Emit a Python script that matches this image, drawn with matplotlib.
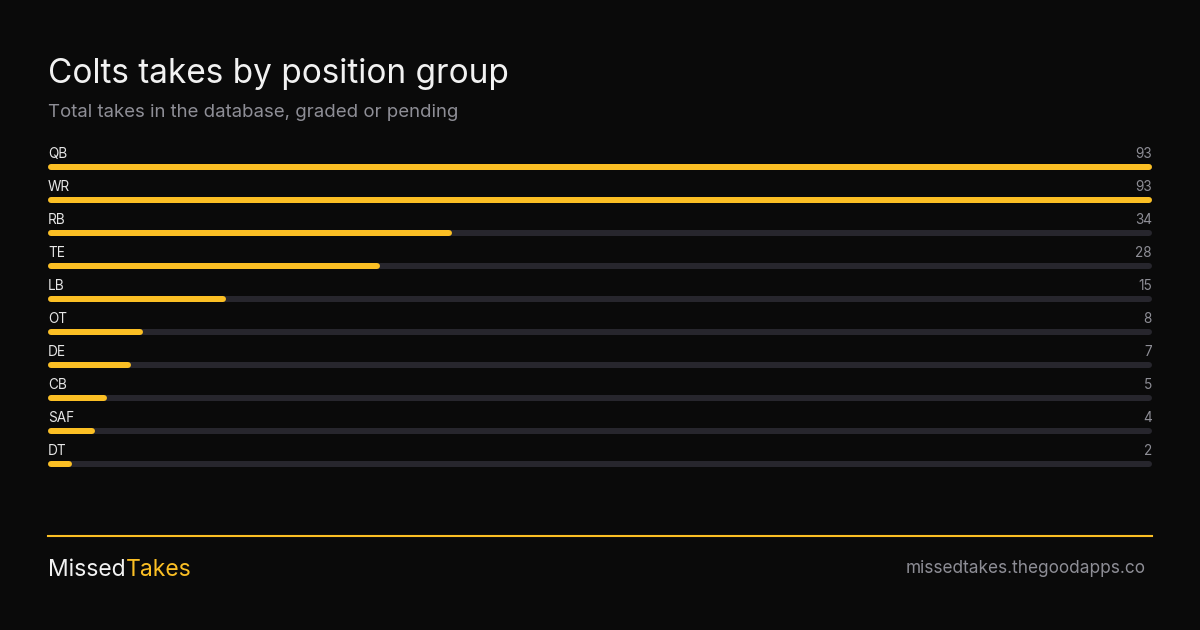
import matplotlib.pyplot as plt
from matplotlib import transforms

# data
positions = ['QB', 'WR', 'RB', 'TE', 'LB', 'OT', 'DE', 'CB', 'SAF', 'DT']
takes = [93, 93, 34, 28, 15, 8, 7, 5, 4, 2]

BG = '#0a0a0a'
AMBER = '#fbbf24'
TRACK = '#27262d'
GRAY = '#8e8e96'

plt.rcParams['font.family'] = ['Inter', 'DejaVu Sans']

W, H = 1200, 630
fig = plt.figure(figsize=(12, 6.3), dpi=100, facecolor=BG)

# header
fig.text(48 / W, 1 - 83 / H, 'Colts takes by position group', color='#f2f2f2',
         fontsize=24, va='baseline', ha='left')
fig.text(48 / W, 1 - 117 / H, 'Total takes in the database, graded or pending', color=GRAY,
         fontsize=13.4, va='baseline', ha='left')

# bar area: rows 33px apart, first bar centre at y=166px
row_h = 33
top_px = 134
n = len(positions)
ax_h_px = row_h * (n + 0.5)
ax = fig.add_axes([48 / W, 1 - (top_px + ax_h_px) / H, 1104 / W, ax_h_px / H])
ax.set_facecolor(BG)
ax.set_ylim(n - 0.5, -1.0)

vmax = max(takes)
ax.set_xlim(0, vmax)
lw_px = 6
cap = (lw_px / 2) * vmax / 1104  # round caps sit inside the bar length
lw_pt = lw_px * 72 / 100

ys = list(range(n))
ax.hlines(ys, cap, vmax - cap, color=TRACK, linewidth=lw_pt, capstyle='round')
ax.hlines(ys, cap, [v - cap for v in takes], color=AMBER, linewidth=lw_pt, capstyle='round')

trans = transforms.blended_transform_factory(ax.transAxes, ax.transData)
for i, (p, v) in enumerate(zip(positions, takes)):
    ax.text(0, i - 9 / row_h, p, transform=trans, color='#e6e6e6', fontsize=9.8,
            ha='left', va='baseline')
    ax.text(1, i - 9 / row_h, str(v), transform=trans, color=GRAY, fontsize=9.8,
            ha='right', va='baseline')
ax.axis('off')

# footer
fig.add_artist(plt.Line2D([48 / W, 1152 / W], [1 - 536 / H, 1 - 536 / H], color=AMBER,
                          linewidth=1.5))
t1 = fig.text(48 / W, 1 - 576 / H, 'Missed', color='#f2f2f2', fontsize=16.5, va='baseline', ha='left')
plt.annotate('Takes', xy=(1, 0), xycoords=t1, xytext=(0.5, 0), textcoords='offset points',
             color=AMBER, fontsize=16.5, ha='left', va='bottom', annotation_clip=False)
fig.text(1146 / W, 1 - 573 / H, 'missedtakes.thegoodapps.co', color=GRAY, fontsize=12.4,
         va='baseline', ha='right')

fig.savefig('out.png', dpi=100, facecolor=BG)
